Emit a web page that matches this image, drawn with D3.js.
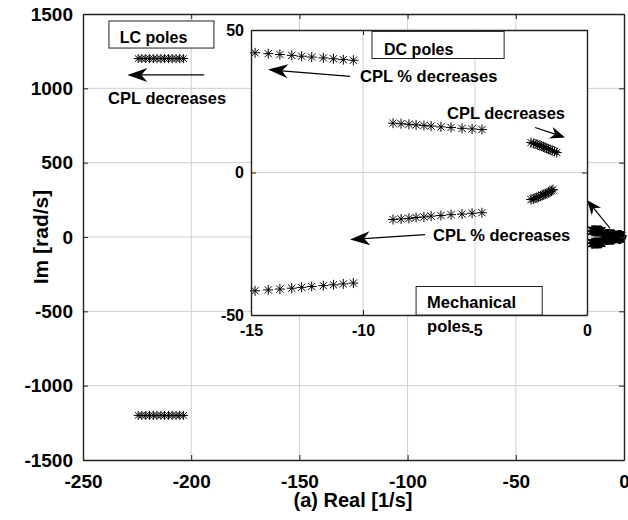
<!DOCTYPE html>
<html>
<head>
  <meta charset="utf-8">
  <title>Pole map - CPL</title>
  <script src="https://d3js.org/d3.v7.min.js"></script>
  <style>
  body { margin: 0; background: #fff; font-family: "Liberation Sans", Arial, sans-serif; }
  text { font-weight: bold; fill: #000; }
  .grid line { stroke: #cfcfcf; stroke-width: 1; }
  .axis path, .axis line { stroke: #222; }
  .axis text { font-family: "Liberation Sans", Arial, sans-serif; font-weight: bold; }
  .mark { fill: none; stroke: #000; }
  </style>
</head>
<body>
<svg id="chart" width="628" height="520"></svg>
<script>
// ---- data ----
// LC poles (main axes), conjugate pair at +/-1200 rad/s
var lcRe = [-224.5, -222.8, -221.0, -219.3, -217.5, -215.8, -214.0, -212.3, -210.5, -208.8, -207.0, -205.3, -203.5];
var lcImUp = 1200;
var lcImDown = -1200;

// DC poles, outer pair (inset)
var dcOuterRe = [-14.82, -14.23, -13.71, -13.18, -12.74, -12.29, -11.77, -11.32, -10.88, -10.43];
var dcOuterImUp = [42.0, 41.7, 41.4, 41.1, 40.8, 40.5, 40.2, 39.9, 39.6, 39.4];
var dcOuterImDown = [-41.5, -41.2, -40.9, -40.6, -40.3, -40.0, -39.7, -39.4, -39.1, -38.8];

// DC poles, inner pair (inset)
var dcInnerRe = [-8.66, -8.30, -7.95, -7.63, -7.28, -6.96, -6.52, -6.07, -5.58, -5.13, -4.69];
var dcInnerImUp = [17.3, 17.1, 16.9, 16.7, 16.5, 16.3, 16.0, 15.8, 15.5, 15.3, 15.1];
var dcInnerImDown = [-16.5, -16.3, -16.1, -15.8, -15.6, -15.3, -15.1, -14.8, -14.6, -14.3, -14.1];

// mechanical poles cluster (inset)
var mechReUp = [-2.50, -2.38, -2.28, -2.20, -2.10, -2.02, -1.95, -1.88, -1.80, -1.72, -1.64, -1.55, -1.45, -1.35];
var mechImUp = [10.5, 10.2, 10.0, 9.7, 9.5, 9.2, 9.0, 8.8, 8.5, 8.2, 8.0, 7.7, 7.4, 7.0];
var mechReDown = [-2.50, -2.40, -2.32, -2.24, -2.16, -2.08, -2.00, -1.93, -1.86, -1.79, -1.72, -1.65, -1.58, -1.52];
var mechImDown = [-9.5, -9.3, -9.0, -8.8, -8.5, -8.3, -8.0, -7.8, -7.5, -7.3, -7.0, -6.7, -6.4, -6.0];

// ticks
var mainXTicks = [-250, -200, -150, -100, -50, 0];
var mainYTicks = [-1500, -1000, -500, 0, 500, 1000, 1500];
var insetXTicks = [-15, -10, -5, 0];
var insetYTicks = [-50, 0, 50];

// ---- helpers ----
function pairs(re, im) {
  return re.map(function(r, i) { return [r, Array.isArray(im) ? im[i] : im]; });
}
var lcPts = pairs(lcRe, lcImUp).concat(pairs(lcRe, lcImDown));
var smallPts = pairs(dcOuterRe, dcOuterImUp)
  .concat(pairs(dcOuterRe, dcOuterImDown))
  .concat(pairs(dcInnerRe, dcInnerImUp))
  .concat(pairs(dcInnerRe, dcInnerImDown))
  .concat(pairs(mechReUp, mechImUp))
  .concat(pairs(mechReDown, mechImDown));

function star(s) {
  var d = s * 0.72;
  return "M" + (-s) + ",0H" + s + "M0," + (-s) + "V" + s +
    "M" + (-d) + "," + (-d) + "L" + d + "," + d +
    "M" + (-d) + "," + d + "L" + d + "," + (-d);
}
// plain hyphen minus like the original figure
function fmt(v) { return String(v); }

var svg = d3.select("#chart");

// ---- main axes ----
var x = d3.scaleLinear().domain([-250, 0]).range([83, 624]);
var y = d3.scaleLinear().domain([-1500, 1500]).range([460, 14]);

var g = svg.append("g");
g.append("g").attr("class", "grid").selectAll("line").data(mainXTicks.slice(1, -1)).enter().append("line")
  .attr("x1", x).attr("x2", x).attr("y1", y(1500)).attr("y2", y(-1500));
g.append("g").attr("class", "grid").selectAll("line").data(mainYTicks.slice(1, -1)).enter().append("line")
  .attr("y1", y).attr("y2", y).attr("x1", x(-250)).attr("x2", x(0));

function drawMarks(sel, pts, xs, ys, s, w) {
  sel.append("g").selectAll("path").data(pts).enter().append("path")
    .attr("class", "mark")
    .attr("stroke-width", w)
    .attr("d", star(s))
    .attr("transform", function(d) { return "translate(" + xs(d[0]) + "," + ys(d[1]) + ")"; });
}
drawMarks(g, lcPts, x, y, 4.5, 1);
drawMarks(g, smallPts, x, y, 5.5, 1.4);

function box(sel, xs, ys, xt, yt, fs, xPad, yPad) {
  sel.append("g").attr("class", "axis").attr("transform", "translate(0," + ys.range()[0] + ")")
    .call(d3.axisBottom(xs).tickValues(xt).tickFormat(fmt).tickSizeInner(-5).tickSizeOuter(0).tickPadding(xPad));
  sel.append("g").attr("class", "axis").attr("transform", "translate(" + xs.range()[0] + ",0)")
    .call(d3.axisLeft(ys).tickValues(yt).tickFormat(fmt).tickSizeInner(-5).tickSizeOuter(0).tickPadding(yPad));
  sel.append("g").attr("class", "axis").attr("transform", "translate(0," + ys.range()[1] + ")")
    .call(d3.axisTop(xs).tickValues(xt).tickFormat("").tickSizeInner(-5).tickSizeOuter(0));
  sel.append("g").attr("class", "axis").attr("transform", "translate(" + xs.range()[1] + ",0)")
    .call(d3.axisRight(ys).tickValues(yt).tickFormat("").tickSizeInner(-5).tickSizeOuter(0));
  sel.selectAll(".axis text").style("font-size", fs + "px").attr("fill", "#000");
  sel.selectAll(".axis path").attr("stroke-width", 1.4);
}
box(g, x, y, mainXTicks, mainYTicks, 19, 15, 10);

// axis titles
svg.append("text").attr("x", 353).attr("y", 507).attr("text-anchor", "middle")
  .style("font-size", "20px").text("(a) Real [1/s]");
svg.append("text").attr("transform", "translate(48," + y(0) + ") rotate(-90)").attr("text-anchor", "middle")
  .style("font-size", "21px").text("Im [rad/s]");

// arrow helper (MATLAB-like annotation arrow)
function arrow(sel, x1, y1, x2, y2, len, half) {
  var a = Math.atan2(y2 - y1, x2 - x1);
  sel.append("line").attr("x1", x1).attr("y1", y1)
    .attr("x2", x2 - Math.cos(a) * len * 0.7).attr("y2", y2 - Math.sin(a) * len * 0.7)
    .attr("stroke", "#000").attr("stroke-width", 1.2);
  var pts = [[0, 0], [-len, -half], [-len * 0.7, 0], [-len, half]].map(function(p) {
    return [x2 + p[0] * Math.cos(a) - p[1] * Math.sin(a), y2 + p[0] * Math.sin(a) + p[1] * Math.cos(a)];
  });
  sel.append("path").attr("d", "M" + pts.join("L") + "Z").attr("fill", "#000");
}

// LC annotations
g.append("rect").attr("x", x(-238)).attr("y", y(1453)).attr("width", x(-189.5) - x(-238)).attr("height", y(1271) - y(1453))
  .attr("fill", "#fff").attr("stroke", "#222").attr("stroke-width", 1);
g.append("text").attr("x", x(-233)).attr("y", y(1305)).style("font-size", "16px").text("LC poles");
arrow(g, x(-194), y(1090), x(-229.5), y(1090), 20, 7);
g.append("text").attr("x", x(-238.4)).attr("y", y(895)).style("font-size", "16.5px").text("CPL decreases");
arrow(g, x(-6.5), y(60), x(-17.1), y(249), 15, 6);

// ---- inset axes ----
var xi = d3.scaleLinear().domain([-15, 0]).range([251, 587]);
var yi = d3.scaleLinear().domain([-50, 50]).range([315, 30]);
var gi = svg.append("g");
gi.append("rect").attr("x", 251).attr("y", 30).attr("width", 336).attr("height", 285).attr("fill", "#fff");
gi.append("g").attr("class", "grid").selectAll("line").data(insetXTicks.slice(1, -1)).enter().append("line")
  .attr("x1", xi).attr("x2", xi).attr("y1", yi(50)).attr("y2", yi(-50));
gi.append("g").attr("class", "grid").selectAll("line").data(insetYTicks.slice(1, -1)).enter().append("line")
  .attr("y1", yi).attr("y2", yi).attr("x1", xi(-15)).attr("x2", xi(0));
drawMarks(gi, smallPts, xi, yi, 5, 1);
box(gi, xi, yi, insetXTicks, insetYTicks, 16, 10, 7);

// inset annotations
gi.append("rect").attr("x", xi(-9.6)).attr("y", yi(49.5)).attr("width", xi(-3.7) - xi(-9.6)).attr("height", yi(40) - yi(49.5))
  .attr("fill", "#fff").attr("stroke", "#222").attr("stroke-width", 1);
gi.append("text").attr("x", xi(-9.06)).attr("y", yi(41.4)).style("font-size", "16px").text("DC poles");
gi.append("text").attr("x", xi(-10.13)).attr("y", yi(31.6)).style("font-size", "16.5px").text("CPL % decreases");
arrow(gi, xi(-10.58), yi(33.7), xi(-14.24), yi(36.1), 20, 7);
gi.append("text").attr("x", xi(-6.25)).attr("y", yi(18.6)).style("font-size", "16.5px").text("CPL decreases");
arrow(gi, xi(-2.32), yi(15.8), xi(-0.98), yi(12.3), 15, 6);
gi.append("text").attr("x", xi(-6.875)).attr("y", yi(-24.2)).style("font-size", "16.5px").text("CPL % decreases");
arrow(gi, xi(-7.23), yi(-21.8), xi(-10.58), yi(-23.5), 20, 7);
gi.append("rect").attr("x", xi(-7.63)).attr("y", yi(-40)).attr("width", xi(-2.0) - xi(-7.63)).attr("height", yi(-50) - yi(-40))
  .attr("fill", "#fff").attr("stroke", "#222").attr("stroke-width", 1);
gi.append("text").attr("x", xi(-7.14)).attr("y", yi(-47.4)).style("font-size", "16.5px").text("Mechanical");
gi.append("text").attr("x", xi(-7.14)).attr("y", yi(-56.1)).style("font-size", "16.5px").text("poles");
</script>
</body>
</html>
